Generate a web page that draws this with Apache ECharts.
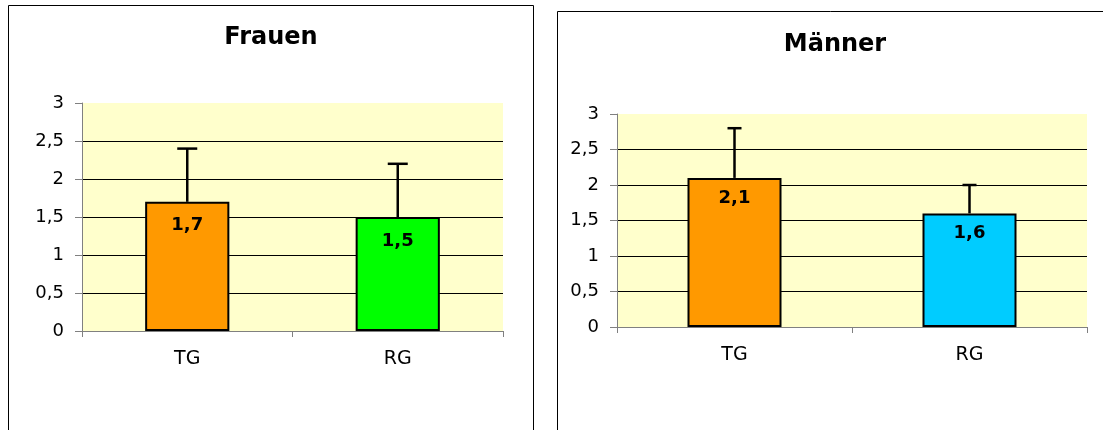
<!DOCTYPE html>
<html><head><meta charset="utf-8">
<script src="https://cdn.jsdelivr.net/npm/echarts@6/dist/echarts.min.js"></script>
<style>html,body{margin:0;padding:0;background:#fff}#c{width:1103px;height:430px}</style>
</head><body><div id="c"></div>
<script>
const categories = ['TG', 'RG'];
const frauenValues = [1.7, 1.5];
const frauenErrors = [0.7, 0.7];
const maennerValues = [2.1, 1.6];
const maennerErrors = [0.7, 0.4];
const frauenColors = ['#FF9900', '#00FF00'];
const maennerColors = ['#FF9900', '#00CCFF'];
const titles = ['Frauen', 'Männer'];
const yMin = 0, yMax = 3, yInterval = 0.5;

const FONT = '"DejaVu Sans", "Liberation Sans", Arial, sans-serif';
const comma = v => String(v).replace('.', ',');

function makeErrItem(hw) {
  return function (params, api) {
    const x = api.value(0), v = api.value(1), e = api.value(2);
    const p0 = api.coord([x, v]);
    const p1 = api.coord([x, v + e]);
    const st = { stroke: '#000', lineWidth: 2.5 };
    return { type: 'group', children: [
      { type: 'line', shape: { x1: p0[0], y1: p0[1], x2: p1[0], y2: p1[1] }, style: st },
      { type: 'line', shape: { x1: p1[0] - hw, y1: p1[1], x2: p1[0] + hw, y2: p1[1] }, style: st }
    ]};
  };
}

function xAxis(gi) {
  return { type: 'category', gridIndex: gi, data: categories, boundaryGap: true,
    axisLine: { lineStyle: { color: '#808080', width: 1 } },
    axisTick: { show: true, length: 6, lineStyle: { color: '#808080' } },
    axisLabel: { color: '#000', fontFamily: FONT, fontSize: 19, margin: 19 } };
}
const gridColors = ['#000', '#000', '#000', '#000', '#000', '#000', 'rgba(0,0,0,0)'];
function yAxis(gi) {
  return { type: 'value', gridIndex: gi, min: yMin, max: yMax, interval: yInterval,
    axisLine: { show: true, lineStyle: { color: '#808080', width: 1 } },
    axisTick: { show: true, length: 7, lineStyle: { color: '#808080' } },
    splitLine: { show: true, lineStyle: { color: gridColors, width: 1 } },
    axisLabel: { color: '#000', fontFamily: FONT, fontSize: 18, margin: 18, formatter: v => comma(v) } };
}
function barSeries(gi, vals, cols, dist) {
  return { type: 'bar', xAxisIndex: gi, yAxisIndex: gi, barWidth: '40%',
    data: vals.map((v, i) => ({ value: v, itemStyle: { color: cols[i] } })),
    itemStyle: { borderColor: '#000', borderWidth: 2 },
    label: { show: true, position: 'insideTop', distance: dist, color: '#000', fontFamily: FONT,
      fontWeight: 'bold', fontSize: 18, formatter: p => comma(p.value) } };
}
function errSeries(gi, vals, errs, hw) {
  return { type: 'custom', xAxisIndex: gi, yAxisIndex: gi, renderItem: makeErrItem(hw), z: 5,
    data: vals.map((v, i) => [i, v, errs[i]]) };
}

const chart = echarts.init(document.getElementById('c'));
chart.setOption({
  animation: false,
  title: [
    { text: titles[0], left: 271, top: 26, padding: 0, textAlign: 'center',
      textStyle: { fontFamily: FONT, fontWeight: 'bold', fontSize: 24, color: '#000' } },
    { text: titles[1], left: 835, top: 33, padding: 0, textAlign: 'center',
      textStyle: { fontFamily: FONT, fontWeight: 'bold', fontSize: 24, color: '#000' } }
  ],
  graphic: [
    { type: 'rect', shape: { x: 8.5, y: 5.5, width: 525, height: 500 }, style: { fill: 'none', stroke: '#000', lineWidth: 1 }, z: -1 },
    { type: 'rect', shape: { x: 557.5, y: 11.5, width: 600, height: 500 }, style: { fill: 'none', stroke: '#000', lineWidth: 1 }, z: -1 }
  ],
  grid: [
    { left: 82, top: 103, width: 421, height: 228, show: true, backgroundColor: '#FFFFCC', borderWidth: 0 },
    { left: 617, top: 114, width: 470, height: 213, show: true, backgroundColor: '#FFFFCC', borderWidth: 0 }
  ],
  xAxis: [xAxis(0), xAxis(1)],
  yAxis: [yAxis(0), yAxis(1)],
  series: [
    barSeries(0, frauenValues, frauenColors, 15),
    errSeries(0, frauenValues, frauenErrors, 10),
    barSeries(1, maennerValues, maennerColors, 11),
    errSeries(1, maennerValues, maennerErrors, 7)
  ]
});
</script></body></html>
